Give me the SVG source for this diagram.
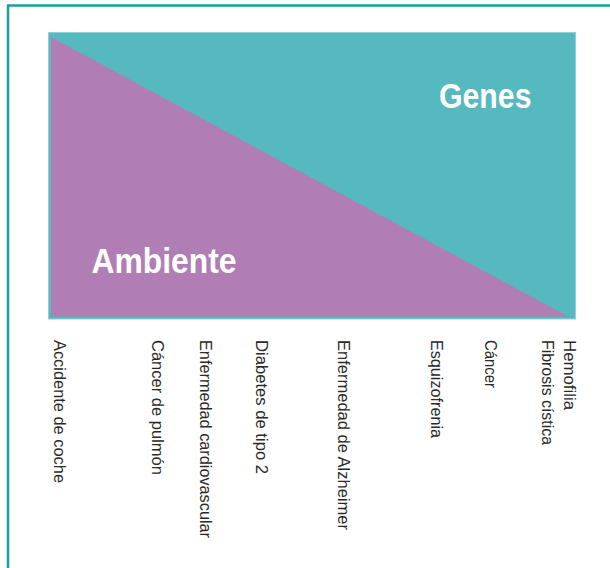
<svg xmlns="http://www.w3.org/2000/svg" width="610" height="568" viewBox="0 0 610 568">
  <style>
    .frame { fill: none; stroke: #17a0a0; stroke-width: 2.5; }
    .title { font-family: "Liberation Sans Narrow", "Liberation Sans", Arial, sans-serif; font-weight: bold; font-size: 35px; fill: #ffffff; }
    .lbl { font-family: "Liberation Sans", Arial, sans-serif; font-size: 16px; fill: #2a2a2a; }
  </style>
  <rect width="610" height="568" fill="#ffffff"/>
  <path class="frame" d="M8,568 V5.5 H610"/>
  <g id="chart">
    <rect x="48.5" y="32.5" width="527" height="286.5" fill="#55b9bf" stroke="#8fd1d4" stroke-width="1"/>
    <polygon points="51,37 51,316.5 568,316.5" fill="#b07db4"/>
  </g>
  <g id="genes">
    <text class="title" x="439" y="108" textLength="92.5" lengthAdjust="spacingAndGlyphs">Genes</text>
  </g>
  <g id="ambiente">
    <text class="title" x="91.5" y="272.7" textLength="145" lengthAdjust="spacingAndGlyphs">Ambiente</text>
  </g>
  <g id="labels">
    <g id="l1"><text class="lbl" transform="translate(53.5,340) rotate(90)" textLength="143" lengthAdjust="spacingAndGlyphs">Accidente de coche</text></g>
    <g id="l2"><text class="lbl" transform="translate(152,340) rotate(90)" textLength="135" lengthAdjust="spacingAndGlyphs">Cáncer de pulmón</text></g>
    <g id="l3"><text class="lbl" transform="translate(200,340) rotate(90)" textLength="198" lengthAdjust="spacingAndGlyphs">Enfermedad cardiovascular</text></g>
    <g id="l4"><text class="lbl" transform="translate(255.5,340) rotate(90)" textLength="134" lengthAdjust="spacingAndGlyphs">Diabetes de tipo 2</text></g>
    <g id="l5"><text class="lbl" transform="translate(337.5,340) rotate(90)" textLength="190" lengthAdjust="spacingAndGlyphs">Enfermedad de Alzheimer</text></g>
    <g id="l6"><text class="lbl" transform="translate(430.5,340) rotate(90)" textLength="98" lengthAdjust="spacingAndGlyphs">Esquizofrenia</text></g>
    <g id="l7"><text class="lbl" transform="translate(484.5,340) rotate(90)" textLength="48" lengthAdjust="spacingAndGlyphs">Cáncer</text></g>
    <g id="l8"><text class="lbl" transform="translate(563.5,340) rotate(90)" textLength="70" lengthAdjust="spacingAndGlyphs">Hemofilia</text></g>
    <g id="l9"><text class="lbl" transform="translate(541.5,340) rotate(90)" textLength="105" lengthAdjust="spacingAndGlyphs">Fibrosis cística</text></g>
  </g>
</svg>
